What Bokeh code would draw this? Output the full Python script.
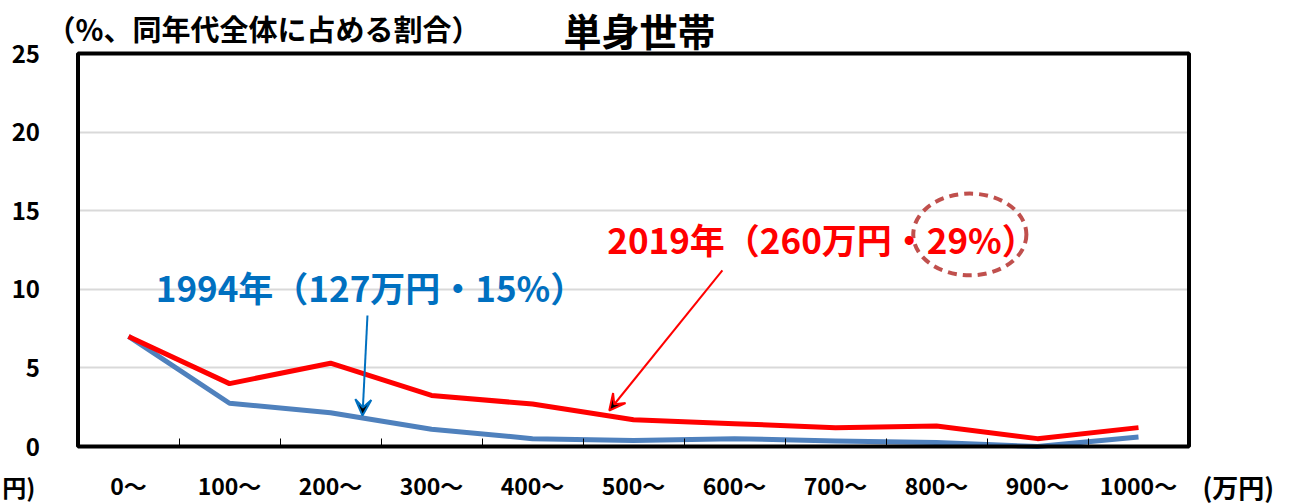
from bokeh.plotting import figure
from bokeh.models import Label, Arrow, VeeHead, FixedTicker, Range1d, ColumnDataSource, BoxAnnotation
from bokeh.embed import file_html
from bokeh.resources import INLINE

categories = ["0～", "100～", "200～", "300～", "400～", "500～", "600～", "700～", "800～", "900～", "1000～"]
vals_2019 = [7.0, 4.0, 5.3, 3.25, 2.7, 1.7, 1.45, 1.2, 1.3, 0.5, 1.2]
vals_1994 = [7.0, 2.75, 2.15, 1.1, 0.5, 0.38, 0.5, 0.35, 0.25, 0.0, 0.6]
y_ticks = [0, 5, 10, 15, 20, 25]
grid_ticks = [5, 10, 15, 20]

FONT = "Noto Sans CJK JP"
BLUE_TXT = "#0070C0"
BLUE_LINE = "#4F81BD"
RED = "#FF0000"

# layout: whole canvas is the frame; the plot box is drawn inside it
W, H = 1300, 504
CAT_PX = 101.0      # pixels per category
X0_PX = 128.0       # pixel of first category
Y0_PX = 446.0       # pixel of value 0
UNIT_PX = 15.72     # pixels per 1 %
n = len(categories)
x_lo, x_hi = -0.5, n - 0.5
y_lo, y_hi = 0, 25

xs = list(range(n))
src = ColumnDataSource(dict(x=xs, y19=vals_2019, y94=vals_1994))

p = figure(width=W, height=H, output_backend="svg", toolbar_location=None,
           x_range=Range1d(-X0_PX / CAT_PX, (W - X0_PX) / CAT_PX),
           y_range=Range1d((Y0_PX - H) / UNIT_PX, Y0_PX / UNIT_PX),
           min_border=0, min_border_left=0, min_border_right=0,
           min_border_top=0, min_border_bottom=0)
p.background_fill_color = "white"
p.border_fill_color = "white"
p.outline_line_color = None

# grid
p.xgrid.visible = False
p.ygrid.ticker = FixedTicker(ticks=grid_ticks)
p.ygrid.cross_bounds = (x_lo, x_hi)
p.ygrid.grid_line_color = "#D9D9D9"
p.ygrid.grid_line_width = 2

# x axis
xa = p.xaxis[0]
xa.fixed_location = y_lo
xa.bounds = (x_lo, x_hi)
xa.ticker = FixedTicker(ticks=xs, minor_ticks=[i + 0.5 for i in xs[:-1]])
xa.major_label_overrides = {i: c for i, c in zip(xs, categories)}
xa.major_tick_line_color = None
xa.major_tick_out = 0
xa.major_tick_in = 0
xa.minor_tick_in = 8
xa.minor_tick_out = 0
xa.minor_tick_line_color = "black"
xa.minor_tick_line_width = 1
xa.axis_line_color = None
xa.major_label_standoff = 21
xa.major_label_text_font = FONT
xa.major_label_text_font_size = "23px"
xa.major_label_text_font_style = "bold"
xa.major_label_text_color = "black"

# y axis
ya = p.yaxis[0]
ya.fixed_location = x_lo
ya.bounds = (y_lo, y_hi)
ya.ticker = FixedTicker(ticks=y_ticks)
ya.axis_line_color = None
ya.major_tick_line_color = None
ya.minor_tick_line_color = None
ya.major_tick_in = 0
ya.major_tick_out = 0
ya.major_label_standoff = 38
ya.major_label_text_font = FONT
ya.major_label_text_font_size = "24px"
ya.major_label_text_font_style = "bold"
ya.major_label_text_color = "black"

# lines
p.line("x", "y94", source=src, line_color=BLUE_LINE, line_width=5, line_join="round")
p.line("x", "y19", source=src, line_color=RED, line_width=5, line_join="round")

# plot box
p.add_layout(BoxAnnotation(left=x_lo, right=x_hi, bottom=y_lo, top=y_hi,
                           fill_alpha=0, fill_color=None, line_color="black",
                           line_alpha=1.0, line_width=4))

# dashed ellipse around 29%
p.ellipse(x=[8.33], y=[13.49], width=[1.12], height=[5.2], fill_color=None,
          line_color="#C0504D", line_width=4, line_dash="9 6")

# annotations
p.add_layout(Label(x=0.27, y=10.18, text="1994年（127万円・15%）", text_color=BLUE_TXT,
                   text_font=FONT, text_font_size="35px", text_font_style="bold",
                   text_baseline="middle", text_align="left"))
p.add_layout(Label(x=4.74, y=13.23, text="2019年（260万円・29%）", text_color=RED,
                   text_font=FONT, text_font_size="35px", text_font_style="bold",
                   text_baseline="middle", text_align="left"))
p.add_layout(Arrow(x_start=2.366, y_start=8.33, x_end=2.317, y_end=1.97,
                   line_color=BLUE_TXT, line_width=2,
                   end=VeeHead(size=16, line_color=BLUE_TXT, line_width=2)))
p.add_layout(Arrow(x_start=5.88, y_start=11.2, x_end=4.76, y_end=2.29,
                   line_color=RED, line_width=2,
                   end=VeeHead(size=16, line_color=RED, line_width=2)))

# title and unit texts
p.add_layout(Label(x=5.06, y=26.50, text="単身世帯", text_color="black",
                   text_font=FONT, text_font_size="38px", text_font_style="bold",
                   text_baseline="middle", text_align="center"))
p.add_layout(Label(x=-0.812, y=26.60, text="（%、同年代全体に占める割合）", text_color="black",
                   text_font=FONT, text_font_size="29px", text_font_style="bold",
                   text_baseline="middle", text_align="left"))
p.add_layout(Label(x=10.634, y=-2.55, text="(万円)", text_color="black",
                   text_font=FONT, text_font_size="26px", text_font_style="bold",
                   text_baseline="middle", text_align="left"))
p.add_layout(Label(x=-1.25, y=-2.55, text="円)", text_color="black",
                   text_font=FONT, text_font_size="24px", text_font_style="bold",
                   text_baseline="middle", text_align="left"))

open("out.html", "w").write(file_html(p, INLINE))
